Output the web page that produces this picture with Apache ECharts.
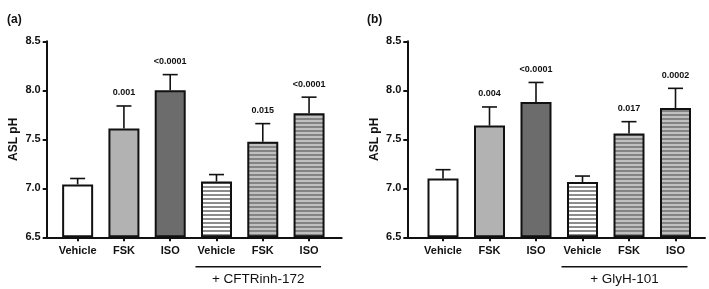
<!DOCTYPE html>
<html>
<head>
<meta charset="utf-8">
<script src="https://cdn.jsdelivr.net/npm/echarts@6/dist/echarts.min.js"></script>
<style>
  html, body { margin: 0; padding: 0; background: #fff; }
  #chart { width: 709px; height: 289px; }
</style>
</head>
<body>
<div id="chart"></div>
<script>
// data
const categories = ['Vehicle', 'FSK', 'ISO', 'Vehicle', 'FSK', 'ISO'];
const yTicks = { min: 6.5, max: 8.5, interval: 0.5 };

const meanA = [7.04, 7.61, 8.00, 7.07, 7.475, 7.765];
const semA = [0.06, 0.23, 0.16, 0.07, 0.185, 0.165];
const pA = ['', '0.001', '<0.0001', '', '0.015', '<0.0001'];
const groupA = '+ CFTRinh-172';

const meanB = [7.10, 7.64, 7.88, 7.065, 7.56, 7.82];
const semB = [0.09, 0.19, 0.20, 0.06, 0.12, 0.20];
const pB = ['', '0.004', '<0.0001', '', '0.017', '0.0002'];
const groupB = '+ GlyH-101';

const FONT = '"Liberation Sans", Arial, sans-serif';
const INK = '#111';

// striped fills for the inhibitor groups
function stripes (base, line) {
    const c = document.createElement('canvas');
    c.width = 4; c.height = 4;
    const ctx = c.getContext('2d');
    ctx.fillStyle = base; ctx.fillRect(0, 0, 4, 4);
    ctx.fillStyle = line; ctx.fillRect(0, 2, 4, 2);
    return { image: c, repeat: 'repeat' };
}
const fills = [
    '#ffffff',
    '#b2b2b2',
    '#6c6c6c',
    stripes('#ffffff', '#8c8c8c'),
    stripes('#c0c0c0', '#838383'),
    stripes('#c0c0c0', '#838383')
];

// panel geometry (pixels)
const panels = [
    { bars: { left: 54.5, top: 41.3, width: 277.7, height: 196 },
      frame: { left: 46.7, top: 41.3, width: 295, height: 196 },
      mean: meanA, sem: semA, p: pA, group: groupA, tag: '(a)', tagX: 2 },
    { bars: { left: 419.75, top: 41.3, width: 279, height: 196 },
      frame: { left: 407.3, top: 41.3, width: 297.7, height: 196 },
      mean: meanB, sem: semB, p: pB, group: groupB, tag: '(b)', tagX: 362 }
];

const grid = [], xAxis = [], yAxis = [], series = [], title = [];

panels.forEach((pn, k) => {
    const gBars = grid.length;
    grid.push(pn.bars);
    grid.push(pn.frame);
    const gFrame = gBars + 1;
    pn.axisIndex = gBars;

    title.push({
        text: pn.tag, left: pn.tagX, top: 9,
        textStyle: { fontFamily: FONT, fontSize: 12, fontWeight: 'bold', color: INK }
    });

    // bars grid: category ticks and labels, no line
    xAxis.push({
        type: 'category', gridIndex: gBars, data: categories,
        axisLine: { show: false },
        axisTick: { show: true, alignWithLabel: true, length: 4, lineStyle: { color: INK, width: 2 } },
        axisLabel: { interval: 0, margin: 8, color: INK, fontFamily: FONT, fontSize: 11, fontWeight: 'bold' },
        splitLine: { show: false }
    });
    yAxis.push({
        type: 'value', gridIndex: gBars, show: false,
        min: yTicks.min, max: yTicks.max, interval: yTicks.interval, startValue: yTicks.min,
        splitLine: { show: false }
    });
    // frame grid: the long axis lines and the y labels
    xAxis.push({
        type: 'value', gridIndex: gFrame, min: 0, max: 1,
        axisLine: { show: true, onZero: false, lineStyle: { color: INK, width: 2 } },
        axisTick: { show: false }, axisLabel: { show: false }, splitLine: { show: false }
    });
    yAxis.push({
        type: 'value', gridIndex: gFrame,
        min: yTicks.min, max: yTicks.max, interval: yTicks.interval,
        name: 'ASL pH', nameLocation: 'middle', nameGap: 27, nameRotate: 90,
        nameTextStyle: { fontFamily: FONT, fontSize: 12, fontWeight: 'bold', color: INK },
        axisLine: { show: true, onZero: false, lineStyle: { color: INK, width: 2 } },
        axisTick: { show: true, length: 4, lineStyle: { color: INK, width: 2 } },
        axisLabel: { margin: 6, color: INK, fontFamily: FONT, fontSize: 11, fontWeight: 'bold',
            formatter: v => v.toFixed(1) },
        splitLine: { show: false }
    });

    series.push({
        type: 'bar', xAxisIndex: gBars, yAxisIndex: gBars, barWidth: 31,
        data: pn.mean.map((v, i) => ({ value: v, itemStyle: { color: fills[i] } })),
        itemStyle: { borderColor: INK, borderWidth: 2 },
        animation: false, z: 2
    });

    const p = pn.p;
    series.push({
        type: 'custom', xAxisIndex: gBars, yAxisIndex: gBars, clip: false, z: 3,
        data: pn.mean.map((v, i) => [i, v + pn.sem[i], v]),
        encode: { x: 0, y: 1 },
        renderItem: (params, api) => {
            const top = api.coord([api.value(0), api.value(1)]);
            const base = api.coord([api.value(0), api.value(2)]);
            const half = 7.5;
            const children = [
                { type: 'line', shape: { x1: top[0], y1: base[1], x2: top[0], y2: top[1] },
                  style: { stroke: INK, lineWidth: 1.6 } },
                { type: 'line', shape: { x1: top[0] - half, y1: top[1], x2: top[0] + half, y2: top[1] },
                  style: { stroke: INK, lineWidth: 1.6 } }
            ];
            const txt = p[params.dataIndex];
            if (txt) {
                children.push({
                    type: 'text', x: top[0], y: top[1] - 13,
                    style: { text: txt, fill: INK, font: 'bold 9px ' + FONT,
                        align: 'center', verticalAlign: 'middle',
                        textAlign: 'center', textVerticalAlign: 'middle' }
                });
            }
            return { type: 'group', children: children };
        },
        animation: false
    });
});

const chart = echarts.init(document.getElementById('chart'), null, { renderer: 'canvas' });
chart.setOption({
    animation: false,
    backgroundColor: '#fff',
    title: title,
    grid: grid,
    xAxis: xAxis,
    yAxis: yAxis,
    series: series
});

// group brackets under the inhibitor columns
const graphic = [];
panels.forEach((pn) => {
    const ax = pn.axisIndex;
    const x0 = chart.convertToPixel({ xAxisIndex: ax }, 3) - 21;
    const x1 = chart.convertToPixel({ xAxisIndex: ax }, 5) + 12;
    const yb = chart.convertToPixel({ yAxisIndex: ax }, yTicks.min);
    graphic.push({
        type: 'line', shape: { x1: x0, y1: yb + 29.5, x2: x1, y2: yb + 29.5 },
        style: { stroke: INK, lineWidth: 1.5 }
    });
    graphic.push({
        type: 'text', x: (x0 + x1) / 2, y: yb + 42,
        style: { text: pn.group, fill: INK, font: '13.5px ' + FONT,
            align: 'center', verticalAlign: 'middle', textAlign: 'center', textVerticalAlign: 'middle' }
    });
});
chart.setOption({ graphic: graphic });
</script>
</body>
</html>
